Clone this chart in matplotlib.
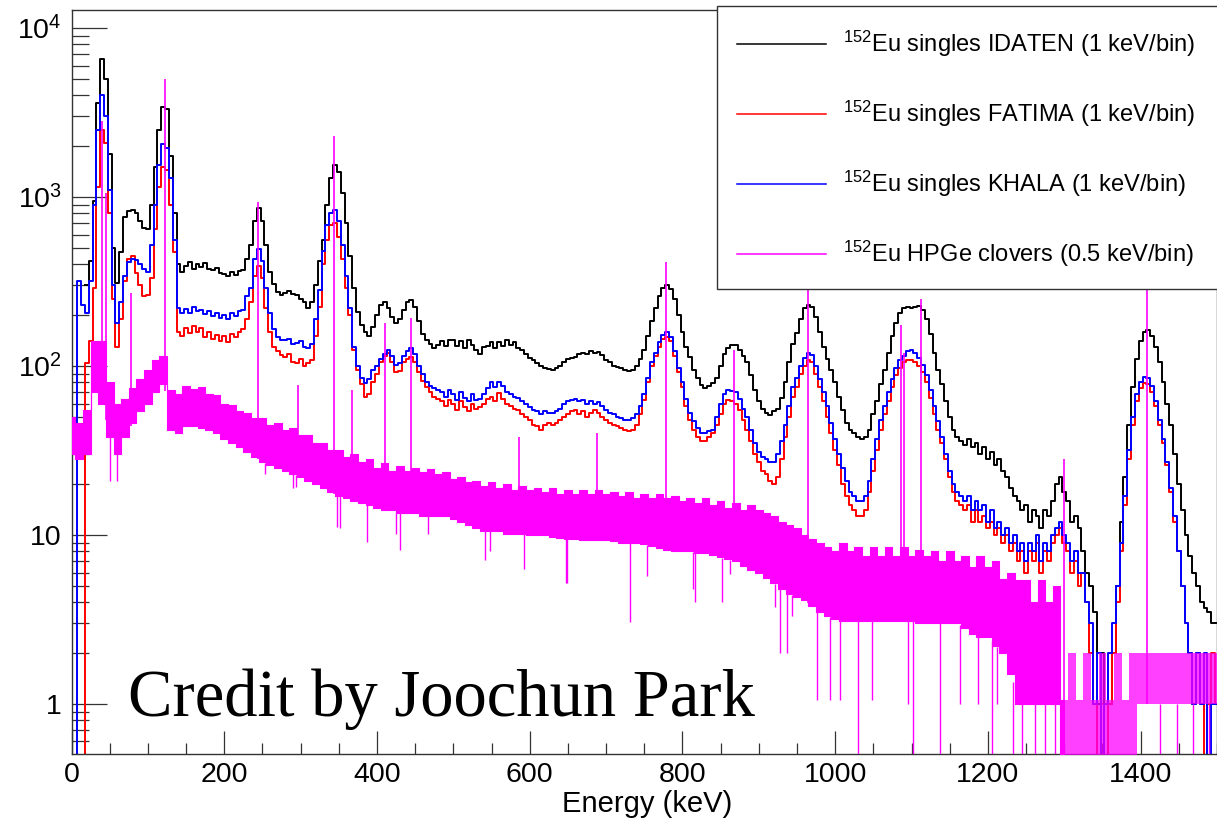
import matplotlib
matplotlib.use("Agg")
import matplotlib.pyplot as plt
import numpy as np
from matplotlib.patches import Rectangle
from matplotlib.ticker import FixedLocator, FixedFormatter, MultipleLocator, LogLocator, NullFormatter

plt.rcParams['font.family'] = ['Liberation Sans', 'DejaVu Sans']
plt.rcParams['mathtext.fontset'] = 'custom'
plt.rcParams['mathtext.rm'] = 'Liberation Sans'
plt.rcParams['mathtext.it'] = 'Liberation Sans:italic'

nan = float('nan')

# singles spectra, counts per bin sampled every 5 keV (one row = 100 keV)
energy = np.arange(0, 1505, 5)

idaten = [
    nan, nan, nan, nan, 300, 420, 950, 3600, 6600, 5000, 1800, 500, 310, 470, 760, 830, 840, 800, 720, 660,
    650, 900, 1500, 2500, 3400, 3300, 1750, 800, 400, 360, 390, 410, 375, 400, 385, 405, 375, 370, 380, 355,
    350, 340, 360, 345, 365, 370, 430, 520, 720, 860, 720, 520, 360, 305, 275, 262, 272, 278, 266, 262,
    250, 240, 222, 238, 300, 420, 560, 900, 1300, 1550, 1400, 1050, 700, 450, 290, 210, 175, 160, 150, 170,
    200, 230, 240, 220, 195, 180, 190, 215, 240, 245, 225, 185, 155, 142, 135, 128, 134, 140, 132, 143,
    142, 132, 140, 128, 142, 133, 125, 118, 130, 132, 139, 128, 138, 131, 142, 133, 138, 128, 125, 118,
    112, 108, 104, 100, 98, 96, 95, 97, 100, 105, 110, 112, 113, 118, 120, 118, 122, 120, 121, 116,
    108, 105, 100, 99, 97, 95, 94, 95, 100, 110, 124, 150, 185, 220, 260, 290, 300, 285, 250, 200,
    160, 130, 113, 95, 85, 77, 74, 76, 79, 85, 100, 118, 128, 133, 133, 125, 115, 105, 88, 72,
    62, 56, 53, 51, 54, 56, 65, 80, 105, 135, 157, 190, 220, 230, 225, 195, 160, 130, 110, 95,
    80, 66, 55, 46, 42, 40, 38, 37, 38, 42, 52, 62, 78, 95, 120, 150, 180, 205, 220, 225,
    220, 225, 228, 215, 190, 155, 120, 95, 78, 62, 50, 42, 38, 36, 34, 37, 33, 35, 30, 33,
    28, 31, 26, 28, 24, 22, 19, 17, 16, 14, 15, 12, 14, 13, 11, 14, 13, 16, 20, 22,
    18, 16, 12, 13, 11, 8, 6, 5, 3.5, 1, 2, 0.3, 1, 2, 5, 12, 22, 45, 75, 110,
    140, 160, 163, 150, 130, 105, 80, 60, 45, 30, 20, 14, 10, 7.5, 6, 5, 4, 3.7, 3.5, 3,
    3,
]

fatima = [
    nan, nan, nan, 0.1, 104, 140, 290, 1150, 2500, 2100, 800, 250, 130, 190, 320, 430, 450, 355, 300, 260,
    265, 330, 650, 1150, 1500, 1450, 900, 470, 160, 150, 168, 156, 172, 160, 167, 148, 160, 145, 152, 140,
    150, 138, 154, 148, 158, 165, 190, 240, 340, 390, 330, 220, 160, 130, 122, 116, 113, 118, 106, 104,
    110, 100, 104, 108, 150, 225, 400, 560, 680, 700, 580, 430, 290, 200, 125, 95, 78, 66, 68, 80,
    90, 105, 115, 120, 105, 92, 94, 105, 110, 113, 105, 92, 82, 75, 70, 66, 64, 62, 58, 63,
    60, 55, 62, 57, 54, 60, 56, 57, 60, 64, 66, 62, 69, 64, 60, 58, 56, 55, 52, 50,
    48, 45, 44, 42, 45, 46, 45, 46, 48, 50, 52, 54, 55, 52, 54, 50, 53, 55, 53, 50,
    48, 46, 45, 44, 43, 42, 41, 42, 45, 52, 63, 80, 100, 115, 130, 145, 149, 140, 115, 92,
    75, 58, 48, 42, 38, 36, 36, 38, 40, 45, 52, 60, 63, 62, 60, 55, 48, 42, 36, 30,
    27, 24, 23, 21, 20, 22, 28, 38, 50, 66, 75, 90, 100, 108, 105, 90, 75, 62, 50, 40,
    32, 26, 20, 17, 15, 14, 13, 13, 14, 18, 24, 32, 42, 52, 62, 75, 88, 98, 105, 108,
    108, 105, 100, 92, 80, 65, 52, 42, 35, 28, 22, 18, 16, 15, 14, 15, 12, 14, 12, 13,
    11, 12, 10, 11, 9, 10, 8, 9, 7, 8, 6, 8, 7, 9, 6, 8, 7, 9, 10, 11,
    9, 8, 6, 7, 5, 6, 4, 2, 1, 0.3, 1, 0.3, 1, 2, 4, 8, 15, 28, 45, 62,
    74, 79, 78, 70, 58, 45, 35, 26, 18, 12, 8, 5, 3, 2, 1, 2, 1, 0.3, 1, 2,
    1,
]

khala = [
    nan, 0.1, 320, 230, 205, 320, 900, 2500, 4000, 3000, 1100, 300, 180, 240, 340, 415, 430, 425, 400, 375,
    360, 520, 900, 1550, 2050, 1950, 1300, 560, 220, 205, 218, 206, 224, 212, 216, 202, 212, 198, 207, 193,
    200, 190, 207, 198, 212, 215, 260, 290, 430, 490, 420, 290, 205, 165, 148, 143, 142, 144, 135, 136,
    140, 130, 128, 135, 190, 280, 480, 680, 810, 835, 720, 520, 340, 220, 130, 100, 85, 79, 84, 95,
    100, 110, 118, 124, 115, 102, 104, 115, 122, 127, 118, 100, 90, 80, 76, 74, 72, 70, 66, 72,
    68, 63, 70, 65, 62, 68, 63, 64, 68, 74, 80, 75, 80, 76, 70, 68, 66, 65, 62, 60,
    57, 55, 54, 52, 54, 53, 53, 54, 56, 60, 62, 63, 64, 62, 63, 60, 62, 60, 61, 58,
    55, 53, 52, 50, 49, 48, 48, 49, 52, 58, 68, 85, 105, 120, 138, 152, 158, 148, 122, 98,
    80, 64, 53, 47, 43, 40, 40, 41, 42, 50, 60, 68, 72, 71, 70, 64, 56, 50, 42, 35,
    31, 29, 28, 27, 27, 30, 36, 45, 58, 75, 85, 100, 112, 120, 116, 100, 84, 70, 58, 46,
    37, 30, 25, 21, 18, 17, 16, 16, 17, 21, 28, 37, 48, 58, 70, 84, 97, 108, 115, 122,
    125, 120, 112, 102, 88, 72, 58, 47, 38, 30, 24, 20, 18, 17, 16, 17, 14, 16, 14, 15,
    12, 14, 11, 12, 10, 11, 9, 10, 8, 9, 7, 9, 8, 10, 7, 9, 8, 10, 11, 12,
    10, 9, 7, 8, 6, 6, 4, 3, 1, 2, 0.3, 1, 2, 3, 5, 9, 17, 32, 50, 68,
    80, 86, 85, 76, 62, 48, 37, 27, 19, 13, 8, 5, 3, 2, 1, 2, 1, 2, 0.3, 1,
    1,
]

# HPGe clover continuum, lower / upper edge of the scatter every 10 keV
energy_ge = np.arange(0, 1510, 10)

ge_high = [
    50, 46, 55, 140, 140, 80, 60, 64, 74, 84,
    95, 108, 115, 72, 68, 76, 73, 75, 68, 67,
    60, 59, 54, 53, 49, 49, 45, 46, 42, 43,
    39, 39, 35, 35, 32, 32, 29, 30, 27, 28,
    25, 26.5, 24, 25.5, 24, 25, 23.5, 24.5, 23, 23.5,
    21.5, 22, 20.5, 21, 19.5, 20.5, 19, 20, 18.5, 19.5,
    18.5, 19, 18, 19, 17.5, 18.5, 17.5, 18.5, 17.5, 18.5,
    17.5, 18, 17, 18, 16.5, 17.5, 16.5, 17.5, 16.5, 17,
    16, 16.5, 15.5, 16.5, 15, 16, 14.5, 15.5, 14, 15,
    14, 13.5, 13, 12, 11.5, 11, 10, 9.5, 9, 8.5,
    8, 9, 8, 8.5, 7.5, 8.5, 7.5, 8.5, 7.5, 8.5,
    7.5, 8.2, 7.5, 8, 7, 8, 7, 7.5, 6.5, 7.5,
    6.5, 7, 5.5, 6, 5.4, 5.4, 4, 5.4, 4, 5,
    1.05, 2, 1.05, 2, 1.05, 2, 1.05, 2, 1.05, 2,
    2, 2, 2, 2, 2, 2, 2, 2, 2, 2,
    2,
]

ge_low = [
    30, 28, 30, 70, 60, 38, 30, 38, 46, 54,
    60, 70, 78, 42, 40, 44, 44, 43, 42, 40,
    37, 35, 33, 31, 29, 27, 26, 25, 24, 23,
    22, 21, 20, 19, 18, 17, 16.5, 16, 15.5, 15,
    14.5, 14, 14, 13.5, 13.5, 13.5, 13, 13, 13, 13,
    12.5, 12, 11.5, 11, 10.5, 10.5, 10.5, 10.2, 10.2, 10.2,
    10, 10, 10, 9.8, 9.6, 9.5, 9.5, 9.4, 9.3, 9.3,
    9.3, 9.2, 9, 9, 9, 8.8, 8.6, 8.4, 8.2, 8,
    8, 8, 7.8, 7.8, 7.6, 7.4, 7.2, 7, 6.6, 6.2,
    6, 5.6, 5.2, 4.8, 4.5, 4.3, 4.1, 3.8, 3.5, 3.3,
    3.2, 3.1, 3.1, 3.1, 3.1, 3.1, 3.1, 3.1, 3.1, 3.1,
    3.1, 3, 3, 3, 3, 3, 3, 2.8, 2.6, 2.5,
    2.5, 2.2, 2, 1.5, 1, 1, 1, 1, 1, 1,
    0.3, 0.3, 0.3, 0.3, 0.3, 0.3, 0.3, 0.3, 0.3, 0.3,
    1, 1, 1, 1, 1, 1, 1, 1, 1, 1,
    1,
]

# sharp HPGe photopeaks (keV, counts at top)
ge_peak_energy = [40, 45.5, 78, 122, 244, 296, 344, 367, 411, 444, 586, 688, 779, 867,
                  964, 1086, 1090, 1112, 1299, 1408]
ge_peak_top = [2800, 1050, 270, 5000, 930, 77, 2300, 72, 180, 192, 38, 40, 410, 124,
               280, 175, 120, 250, 28, 290]

# low-count HPGe bins reaching below the band (keV, counts)
ge_dip_energy = [50, 59, 253, 290, 294, 348, 351, 387, 425, 430, 467, 541, 548, 592, 648,
                 649, 731, 753, 814, 817, 852, 862, 921, 928, 937, 943, 976, 993, 1006,
                 1030, 1048, 1096, 1102, 1137, 1164, 1187, 1205, 1212, 1233, 1245, 1262,
                 1275, 1288, 1425, 1447, 1468, 1490]
ge_dip_low = [21, 21, 23, 19, 19.3, 11.1, 11, 9.1, 10.2, 8.1, 10.2, 7.1, 8, 6.3, 5.2,
              5.2, 3.05, 5.7, 4.8, 4, 4, 5.9, 3.75, 2, 2, 3.3, 1.05, 1.05, 1.05,
              0.3, 1.05, 1, 0.3, 0.3, 1, 1, 0.3, 1, 0.3, 0.3, 0.3,
              0.3, 0.3, 0.3, 0.3, 0.3, 0.3]

labels = ['$^{152}$Eu singles IDATEN (1 keV/bin)',
          '$^{152}$Eu singles FATIMA (1 keV/bin)',
          '$^{152}$Eu singles KHALA (1 keV/bin)',
          '$^{152}$Eu HPGe clovers (0.5 keV/bin)']
colors = ['#000000', '#ff0000', '#0000ff', '#ff00ff']

fig = plt.figure(figsize=(12.17, 8.21), dpi=100)
ax = fig.add_axes([71.5 / 1217, 1 - 754 / 821, 1 - 71.5 / 1217, 744 / 821])

for series, c in zip([idaten, fatima, khala], colors[:3]):
    ax.plot(energy, series, drawstyle='steps-mid', color=c, lw=1.4, zorder=2)

# clover spectrum: dense band, thinner above 1300 keV where bins hold 0-2 counts
dense = energy_ge <= 1300
ax.fill_between(energy_ge, ge_low, ge_high, where=dense, step='mid', color=colors[3],
                lw=0.8, edgecolor=colors[3], zorder=3)
ax.fill_between(energy_ge, ge_low, ge_high, where=energy_ge >= 1300, step='mid',
                color=colors[3], alpha=0.75, lw=0, zorder=3)
peak_base = np.interp(ge_peak_energy, energy_ge, ge_low)
ax.vlines(ge_peak_energy, peak_base, ge_peak_top, color=colors[3], lw=1.2, zorder=3)
dip_top = np.interp(ge_dip_energy, energy_ge, ge_low)
ax.vlines(ge_dip_energy, ge_dip_low, dip_top, color=colors[3], lw=1.0, zorder=3)

ax.set_yscale('log')
ax.set_xlim(0, 1500)
ax.set_ylim(0.506, 12790)

ax.xaxis.set_major_locator(MultipleLocator(200))
ax.xaxis.set_minor_locator(MultipleLocator(50))
ax.yaxis.set_major_locator(FixedLocator([1, 10, 100, 1000, 10000]))
ax.yaxis.set_major_formatter(FixedFormatter(['1', '10', '$10^{2}$', '$10^{3}$', '$10^{4}$']))
ax.yaxis.set_minor_locator(LogLocator(base=10, subs=np.arange(2, 10)))
ax.yaxis.set_minor_formatter(NullFormatter())

ax.tick_params(axis='both', which='both', direction='in', width=0.9, color='#333333',
               labelsize=20.5, top=False, right=False)
ax.tick_params(axis='y', which='major', length=25, pad=7)
ax.tick_params(axis='y', which='minor', length=12.5)
ax.tick_params(axis='x', which='major', length=16.5, pad=6)
ax.tick_params(axis='x', which='minor', length=8)
for sp in ax.spines.values():
    sp.set_linewidth(1.0)
    sp.set_color('#333333')

# legend box in ROOT style
ax.add_patch(Rectangle((0.5635, 0.625), 0.45, 0.38, transform=ax.transAxes,
                       facecolor='white', edgecolor='#333333', lw=1.0, zorder=10,
                       clip_on=False))
rows_y = [44, 114, 184, 254]
for lab, c, yp in zip(labels, colors, rows_y):
    ya = (754 - yp) / 744
    ax.plot([(737 - 71.5) / 1145.5, (826 - 71.5) / 1145.5], [ya, ya], color=c, lw=1.1,
            transform=ax.transAxes, zorder=11, clip_on=False)
    ax.text((843 - 71.5) / 1145.5, (754 - yp - 8) / 744, lab, transform=ax.transAxes,
            fontsize=17, va='baseline', ha='left', zorder=11)

fig.text(647 / 1217, 1 - 812 / 821, 'Energy (keV)', fontsize=21, ha='center', va='baseline')
fig.text(128 / 1217, 1 - 716 / 821, 'Credit by Joochun Park', fontsize=48,
         family='Liberation Serif', ha='left', va='baseline')

fig.savefig('out.png', dpi=100)
